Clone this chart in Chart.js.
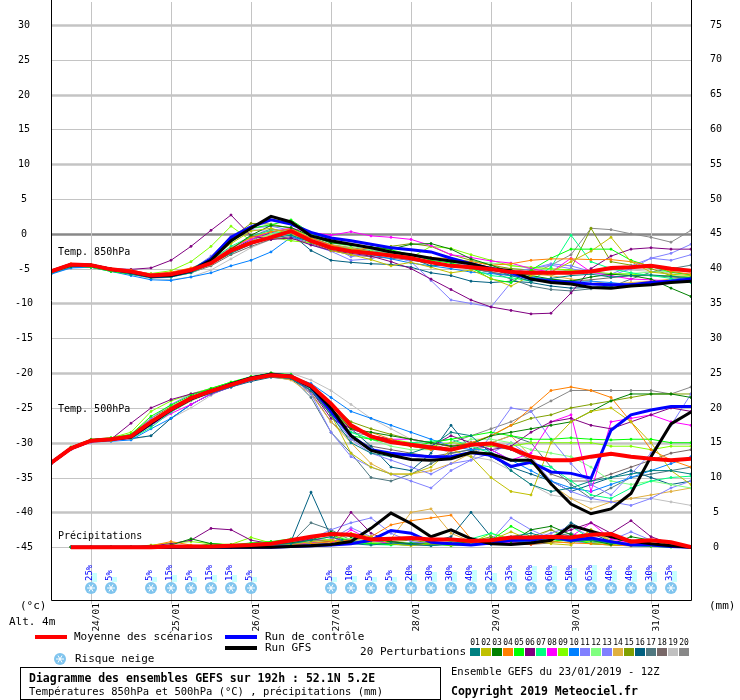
<!DOCTYPE html>
<html>
<head>
<meta charset="utf-8">
<script src="https://cdn.jsdelivr.net/npm/chart.js@4"></script>
<style>
  body { margin: 0; background: #fff; }
  canvas { display: block; }
</style>
</head>
<body>
<canvas id="chart" width="740" height="700"></canvas>
<script>
// 33 steps of 6h from 23/01 12Z
const steps = Array.from({ length: 33 }, (_, i) => i);
const dateLabels = ['24/01', '25/01', '26/01', '27/01', '28/01', '29/01', '30/01', '31/01'];
const dateSteps = [2, 6, 10, 14, 18, 22, 26, 30];
const tempTicks = [-45, -40, -35, -30, -25, -20, -15, -10, -5, 0, 5, 10, 15, 20, 25, 30];
const precTicks = [0, 5, 10, 15, 20, 25, 30, 35, 40, 45, 50, 55, 60, 65, 70, 75];

const mean850 = [-5.4,-4.4,-4.5,-5.1,-5.4,-6.0,-5.8,-5.2,-4.2,-2.4,-1.3,-0.5,0.4,-1.0,-2.0,-2.5,-2.8,-3.1,-3.5,-4.1,-4.6,-4.8,-5.1,-5.5,-5.6,-5.6,-5.6,-5.4,-4.9,-4.8,-4.6,-5.0,-5.3];
const ctrl850 = [-5.4,-4.4,-4.5,-5.1,-5.5,-6.1,-6.0,-5.3,-3.6,-0.5,1.0,2.0,1.4,0.2,-0.6,-1.0,-1.5,-2.0,-2.3,-2.6,-3.5,-4.3,-5.0,-5.6,-6.5,-6.8,-7.0,-7.2,-7.3,-7.3,-7.0,-6.8,-6.5];
const gfs850 = [-5.4,-4.4,-4.5,-5.1,-5.5,-6.1,-6.0,-5.3,-3.8,-1.0,0.8,2.5,1.7,-0.3,-1.0,-1.5,-2.0,-2.6,-3.0,-3.5,-3.9,-4.3,-5.0,-5.3,-6.5,-7.0,-7.2,-7.7,-7.8,-7.5,-7.3,-7.0,-6.8];

const mean500 = [-32.9,-30.8,-29.7,-29.5,-29.1,-27.0,-25.2,-23.6,-22.6,-21.7,-20.8,-20.3,-20.5,-21.8,-24.4,-27.5,-29.1,-29.9,-30.3,-30.7,-31.0,-30.3,-30.1,-30.8,-32.0,-32.5,-32.5,-32.0,-31.6,-32.0,-32.3,-32.5,-32.3];
const ctrl500 = [-32.9,-30.8,-29.7,-29.5,-29.2,-27.2,-25.3,-23.7,-22.6,-21.6,-20.7,-20.2,-20.4,-22.0,-25.5,-29.0,-31.0,-31.5,-31.8,-32.0,-32.0,-31.4,-31.8,-33.4,-32.8,-34.2,-34.4,-35.1,-28.2,-26.0,-25.3,-24.8,-24.8];
const gfs500 = [-32.9,-30.8,-29.7,-29.5,-29.2,-27.2,-25.3,-23.7,-22.6,-21.6,-20.7,-20.2,-20.5,-22.0,-25.0,-29.0,-31.1,-31.8,-32.4,-32.5,-32.3,-31.4,-31.6,-32.5,-32.5,-35.9,-38.8,-40.2,-39.5,-37.3,-32.0,-27.3,-25.6];

const meanPrec = [null,0,0,0,0,0,0.1,0.1,0.1,0.2,0.3,0.5,1.0,1.5,1.9,1.8,1.1,1.2,1.3,1.1,1.1,0.9,1.0,1.4,1.4,1.5,1.4,1.8,1.9,0.8,1.0,0.7,0];
const ctrlPrec = [null,0,0,0,0,0,0,0,0,0,0,0,0.1,0.2,0.3,0.5,1.0,2.4,2.0,0.7,0.5,0.3,0.6,1.0,1.0,1.5,1.0,1.3,0.8,0.3,0.3,0.1,0];
const gfsPrec = [null,0,0,0,0,0,0,0,0,0,0,0,0.1,0.2,0.4,0.8,2.7,4.9,3.4,1.5,2.5,1.2,0.5,0.4,0.6,1.0,3.1,2.3,1.5,0.9,0.5,0.2,0];

const pertColors = ['#008080','#c0c000','#008000','#ff8000','#00ff00','#800080','#00ff80','#ff00ff','#80ff00','#0080ff','#8080ff','#80ff80','#8080ff','#e0b040','#80a000','#006080','#507880','#786868','#c0c0c0','#888888'];

const pert850 = [
  [-5.6,-4.6,-4.6,-5.2,-5.8,-6.3,-6.2,-5.6,-4.3,-2.8,-1.5,-0.6,-0.2,-1.2,-2.2,-2.6,-3.0,-3.2,-3.5,-4.6,-4.4,-4.8,-5.0,-6.0,-6.8,-6.4,-6.0,-5.8,-6.2,-6.0,-5.9,-6.1,-6.3],
  [-5.3,-4.5,-4.5,-5.0,-5.3,-5.9,-5.7,-5.3,-3.6,-1.4,0.4,0.8,-0.1,-0.8,-2.4,-3.0,-3.7,-4.6,-4.1,-4.8,-5.6,-5.2,-6.4,-7.5,-6.0,-5.5,-4.0,-2.5,-0.5,-4.0,-5.5,-5.8,-6.0],
  [-5.5,-4.7,-4.6,-5.1,-5.5,-6.1,-6.0,-5.4,-4.2,-2.2,-0.2,1.2,0.9,-0.3,-1.3,-1.6,-1.9,-2.2,-1.5,-1.4,-2.2,-3.6,-4.5,-5.5,-6.0,-6.5,-6.8,-6.2,-5.8,-6.0,-6.5,-7.8,-9.0],
  [-5.2,-4.3,-4.4,-5.0,-5.2,-5.8,-5.5,-4.9,-3.9,-2.1,-0.5,0.3,0.7,-0.6,-1.6,-2.4,-2.0,-2.6,-3.2,-3.4,-3.6,-4.0,-4.5,-4.3,-3.8,-3.6,-3.6,-3.7,-3.7,-4.0,-4.6,-5.4,-5.8],
  [-5.6,-4.6,-4.8,-5.4,-5.8,-6.2,-5.9,-5.0,-3.5,-1.2,0.8,1.3,2.0,0.1,-1.2,-1.6,-1.9,-2.3,-3.0,-3.8,-4.2,-4.8,-6.5,-7.0,-5.2,-3.5,-2.2,-2.2,-2.2,-3.8,-4.7,-5.5,-5.9],
  [-5.5,-4.5,-4.4,-5.0,-5.1,-4.9,-3.8,-1.8,0.5,2.7,-0.3,-0.8,-0.6,-1.6,-2.4,-2.8,-3.2,-4.0,-5.0,-6.5,-8.0,-9.5,-10.5,-11.0,-11.5,-11.4,-8.5,-5.0,-3.2,-2.2,-2.0,-2.2,-2.2],
  [-5.4,-4.5,-4.6,-5.1,-5.3,-5.9,-5.8,-5.0,-3.8,-1.8,-0.4,0.5,-0.2,-1.0,-2.0,-2.5,-2.8,-3.1,-3.5,-4.0,-4.5,-5.0,-6.0,-6.3,-6.8,-4.8,-0.2,-4.0,-5.0,-5.6,-6.0,-6.4,-7.0],
  [-5.3,-4.4,-4.5,-5.0,-5.2,-5.8,-5.6,-5.0,-3.9,-2.0,-0.8,0.3,0.8,0.2,-0.2,0.3,-0.3,-0.5,-0.8,-1.7,-3.0,-3.4,-3.9,-4.2,-5.0,-5.5,-3.5,-5.5,-6.0,-6.5,-6.6,-6.8,-6.9],
  [-5.4,-4.5,-4.5,-5.0,-5.4,-5.7,-5.3,-4.0,-1.8,1.1,-1.0,-0.5,-1.0,-1.3,-1.8,-2.2,-2.6,-3.0,-3.4,-1.8,-2.1,-3.0,-3.8,-4.6,-4.8,-5.0,-5.2,-5.5,-5.7,-5.8,-6.0,-6.0,-6.2],
  [-5.8,-4.9,-4.8,-5.4,-6.0,-6.6,-6.7,-6.2,-5.6,-4.6,-3.8,-2.6,-0.5,-1.0,-2.0,-2.5,-3.0,-3.6,-4.2,-4.6,-5.0,-5.5,-5.7,-6.0,-6.2,-6.6,-6.8,-6.8,-7.0,-7.3,-7.0,-6.6,-6.2],
  [-5.5,-4.6,-4.6,-5.1,-5.5,-6.1,-6.0,-5.3,-3.5,-1.0,0.8,1.1,0.5,-0.6,-1.8,-3.3,-2.8,-3.1,-4.0,-6.7,-9.5,-10.0,-10.5,-7.0,-5.0,-4.3,-4.6,-5.4,-5.8,-4.6,-3.5,-3.8,-3.0],
  [-5.6,-4.7,-4.7,-5.2,-5.6,-6.3,-6.2,-5.6,-4.4,-2.8,-1.2,0.0,0.6,-0.4,-1.3,-1.8,-2.3,-2.8,-3.2,-3.5,-3.5,-4.0,-4.2,-4.5,-5.0,-5.1,-5.3,-5.6,-5.8,-5.7,-5.5,-5.4,-5.3],
  [-5.4,-4.5,-4.6,-5.1,-5.5,-6.0,-5.9,-5.2,-3.2,-0.3,0.6,0.3,-0.3,-1.6,-2.5,-3.8,-3.6,-2.8,-3.2,-3.6,-4.0,-4.6,-4.8,-5.5,-5.0,-4.5,-5.0,-5.6,-6.0,-5.0,-3.5,-2.8,-1.5],
  [-5.4,-4.6,-4.6,-5.0,-5.5,-6.0,-5.8,-5.2,-3.8,-2.0,-0.6,-0.2,0.5,-0.8,-1.6,-2.0,-2.6,-3.0,-3.6,-4.0,-4.5,-4.8,-5.0,-5.4,-5.8,-6.0,-6.5,-6.8,-7.2,-7.0,-6.8,-6.5,-6.3],
  [-5.5,-4.6,-4.6,-5.1,-5.5,-6.1,-6.0,-5.3,-3.4,-0.6,1.5,1.4,0.8,-0.5,-1.2,-1.6,-2.0,-1.8,-1.4,-1.8,-3.0,-3.8,-4.5,-5.0,-5.2,-6.0,-5.0,0.8,-4.0,-4.5,-5.0,-6.0,-6.5],
  [-5.7,-4.8,-4.8,-5.3,-5.7,-6.3,-6.2,-5.5,-4.2,-2.4,-0.8,0.2,0.0,-2.4,-3.8,-4.1,-4.3,-4.4,-4.8,-5.6,-6.0,-6.8,-7.0,-6.8,-7.0,-7.5,-7.8,-7.7,-7.5,-7.2,-7.0,-6.8,-6.5],
  [-5.5,-4.6,-4.6,-5.1,-5.5,-6.2,-6.0,-5.4,-4.0,-2.1,-0.4,0.7,0.3,-0.5,-1.6,-2.0,-2.4,-2.8,-3.4,-4.0,-4.5,-5.0,-5.5,-6.5,-7.5,-8.0,-8.2,-7.9,-7.6,-6.5,-5.5,-5.0,-4.5],
  [-5.4,-4.5,-4.6,-5.0,-5.4,-6.1,-6.1,-5.6,-4.6,-3.0,-1.8,-0.8,-0.4,-1.4,-2.4,-3.0,-3.3,-3.5,-3.8,-4.2,-4.6,-5.0,-5.5,-6.0,-6.3,-6.6,-6.8,-6.6,-6.3,-6.0,-6.0,-6.2,-6.4],
  [-5.6,-4.7,-4.7,-5.3,-5.8,-6.4,-6.6,-6.2,-5.2,-3.6,-2.0,-0.8,0.0,-0.6,-1.5,-2.0,-2.4,-2.6,-3.0,-3.5,-4.0,-4.4,-4.8,-5.0,-5.2,-5.4,-5.5,-5.4,-5.2,-5.2,-5.4,-5.6,-5.8],
  [-5.5,-4.6,-4.6,-5.1,-5.5,-6.1,-6.0,-5.4,-4.2,-2.4,-1.0,0.2,-0.9,-0.5,-1.6,-2.2,-2.6,-3.0,-3.6,-4.0,-4.5,-5.0,-5.5,-6.0,-5.8,-4.5,-3.0,0.8,0.6,0.0,-0.5,-1.2,0.5]
];

const pert500 = [
  [-33.0,-30.9,-29.8,-29.6,-29.3,-27.5,-25.4,-23.8,-22.9,-22.0,-21.0,-20.5,-20.8,-22.5,-26.0,-30.0,-31.5,-32.0,-31.5,-30.5,-28.5,-29.0,-31.5,-34.0,-36.0,-37.0,-36.5,-35.5,-35.0,-34.5,-34.0,-34.0,-34.5],
  [-33.0,-30.8,-29.8,-29.7,-29.2,-26.8,-25.0,-23.5,-22.5,-21.6,-20.6,-20.2,-20.6,-22.0,-26.0,-31.5,-33.5,-34.5,-34.5,-33.5,-31.0,-32.0,-35.0,-37.0,-37.5,-30.0,-27.0,-25.5,-25.0,-27.0,-30.0,-34.0,-36.0],
  [-32.8,-30.8,-29.6,-29.5,-29.0,-27.0,-25.0,-23.4,-22.4,-21.5,-20.6,-20.0,-20.3,-22.0,-25.0,-28.0,-28.5,-29.0,-29.5,-30.0,-30.5,-30.2,-29.0,-28.5,-28.0,-27.5,-27.0,-25.5,-24.0,-23.0,-23.0,-23.0,-23.5],
  [-33.0,-30.9,-29.8,-29.6,-29.3,-27.2,-25.2,-23.6,-22.6,-21.7,-20.8,-20.3,-20.5,-22.0,-25.0,-28.0,-28.5,-29.5,-30.5,-31.0,-30.5,-30.0,-29.0,-27.5,-25.0,-22.5,-22.0,-22.5,-23.5,-27.0,-31.0,-32.5,-33.5],
  [-32.7,-30.6,-29.5,-29.3,-28.8,-26.2,-24.6,-23.2,-22.2,-21.3,-20.5,-20.0,-20.2,-22.0,-25.0,-29.0,-29.5,-30.0,-30.5,-30.0,-29.5,-29.0,-28.5,-29.0,-29.5,-29.5,-29.3,-29.5,-29.6,-29.5,-29.5,-30.0,-30.0],
  [-33.0,-30.8,-29.7,-29.5,-27.2,-25.0,-23.8,-23.0,-22.4,-21.6,-20.8,-20.3,-20.5,-22.5,-26.5,-28.0,-29.0,-29.5,-30.5,-30.5,-29.0,-30.0,-31.0,-30.5,-28.5,-27.0,-26.5,-27.5,-28.0,-27.0,-26.0,-25.0,-25.5],
  [-33.0,-30.9,-29.8,-29.5,-29.4,-27.8,-25.6,-23.9,-22.8,-21.8,-20.9,-20.4,-20.6,-22.3,-26.0,-28.5,-29.5,-30.0,-30.0,-29.8,-29.5,-30.5,-31.5,-32.5,-33.0,-33.5,-35.5,-37.5,-38.0,-36.5,-35.5,-35.0,-34.8],
  [-33.1,-31.0,-29.9,-29.7,-29.4,-27.5,-25.8,-24.5,-23.0,-22.0,-21.0,-20.4,-20.6,-22.5,-26.0,-28.0,-29.0,-29.5,-29.5,-30.0,-30.5,-30.0,-31.0,-32.5,-31.5,-27.0,-26.0,-37.0,-27.0,-26.5,-26.0,-27.0,-27.5],
  [-32.8,-30.7,-29.6,-29.3,-28.5,-25.5,-24.0,-23.0,-22.2,-21.3,-20.6,-20.2,-20.3,-22.0,-25.5,-28.0,-29.0,-29.5,-30.0,-30.5,-30.0,-30.2,-30.5,-30.5,-30.0,-30.0,-30.0,-30.0,-30.5,-30.5,-31.0,-30.5,-30.5],
  [-33.1,-31.0,-29.9,-29.8,-29.6,-28.0,-26.5,-24.5,-23.0,-22.0,-21.0,-20.5,-20.5,-21.5,-23.5,-25.5,-26.5,-27.5,-28.5,-29.5,-30.5,-31.0,-31.0,-32.5,-34.0,-35.5,-36.5,-37.0,-36.0,-35.0,-34.0,-33.0,-32.0],
  [-33.0,-30.8,-29.8,-29.5,-29.0,-26.5,-24.5,-23.0,-22.2,-21.4,-20.6,-20.2,-20.5,-23.0,-28.5,-32.0,-33.5,-34.5,-35.5,-36.5,-34.0,-32.5,-29.0,-25.0,-25.5,-29.5,-33.0,-36.0,-37.5,-34.5,-31.5,-27.5,-23.0],
  [-33.0,-30.9,-29.8,-29.6,-29.2,-27.0,-25.2,-23.6,-22.5,-21.6,-20.7,-20.3,-20.7,-22.5,-25.5,-28.5,-29.5,-30.5,-31.0,-31.0,-30.8,-29.5,-29.5,-30.0,-31.0,-31.5,-32.0,-33.5,-35.5,-36.0,-35.5,-36.0,-36.5],
  [-33.0,-30.8,-29.8,-29.6,-29.1,-26.8,-25.0,-23.5,-22.3,-21.4,-20.6,-20.1,-20.6,-22.5,-26.0,-29.5,-31.5,-32.5,-33.5,-34.5,-33.0,-32.5,-31.5,-30.0,-32.0,-35.5,-37.0,-38.0,-38.5,-39.0,-38.0,-36.5,-35.5],
  [-33.1,-31.0,-29.9,-29.7,-29.5,-27.5,-25.6,-24.0,-22.8,-21.8,-21.0,-20.5,-21.0,-23.0,-27.0,-30.0,-33.0,-34.5,-34.5,-34.0,-33.0,-31.5,-30.0,-29.0,-32.0,-36.0,-38.0,-39.5,-38.5,-38.0,-37.5,-37.0,-36.5],
  [-32.9,-30.7,-29.7,-29.4,-28.8,-26.5,-24.8,-23.4,-22.4,-21.5,-20.6,-20.0,-20.4,-22.0,-24.5,-27.0,-28.0,-28.8,-29.5,-30.0,-30.5,-30.0,-29.0,-27.5,-26.5,-26.0,-25.0,-24.5,-24.0,-23.5,-23.0,-23.0,-23.0],
  [-33.0,-30.9,-29.8,-29.6,-29.4,-29.0,-26.5,-24.5,-23.0,-22.0,-21.2,-20.6,-20.9,-22.5,-25.5,-28.0,-30.5,-33.5,-34.0,-31.5,-27.5,-31.0,-32.0,-33.5,-34.5,-35.5,-37.0,-36.0,-35.0,-34.0,-35.0,-36.0,-35.5],
  [-33.0,-30.8,-29.8,-29.6,-29.2,-27.2,-25.3,-23.8,-22.6,-21.6,-20.7,-20.2,-20.6,-23.5,-28.5,-31.5,-35.0,-35.5,-34.5,-33.0,-31.5,-31.0,-30.0,-29.0,-30.0,-33.5,-36.0,-38.0,-36.5,-35.0,-34.5,-34.0,-33.5],
  [-33.0,-30.9,-29.8,-29.6,-29.3,-27.2,-25.3,-23.7,-22.6,-21.7,-20.8,-20.3,-20.7,-22.8,-27.0,-29.5,-30.5,-31.0,-31.5,-32.0,-31.5,-31.0,-30.5,-31.0,-32.5,-34.5,-35.5,-35.5,-34.5,-33.5,-32.5,-31.5,-31.0],
  [-32.9,-30.8,-29.8,-29.6,-29.5,-29.0,-26.5,-25.0,-23.2,-21.8,-20.8,-20.2,-20.0,-21.0,-22.5,-24.5,-26.5,-28.0,-29.5,-30.5,-31.5,-32.0,-32.5,-34.0,-36.0,-37.5,-38.0,-38.5,-38.5,-38.0,-38.0,-38.5,-39.0],
  [-33.0,-30.9,-29.8,-29.6,-29.3,-27.2,-25.3,-23.7,-22.5,-21.6,-20.7,-20.2,-20.6,-22.5,-26.0,-28.5,-29.0,-29.5,-30.5,-31.0,-30.0,-29.0,-28.0,-27.0,-25.5,-24.0,-22.5,-22.5,-22.5,-22.5,-22.5,-23.0,-22.0]
];

const pertPrec = [
  [null,0,0,0,0,0,0,0,0,0,0,0.3,0.5,1.0,1.5,0.5,0.3,0.6,0.4,0.2,0.5,1.0,0.8,1.5,2.0,1.2,0.8,1.0,0.6,0.3,0.4,0.3,0],
  [null,0,0,0,0,0,0,0,0,0,0,0.2,0.4,0.8,1.0,2.0,1.5,0.5,0.2,0.5,0.3,0.4,1.0,2.2,1.0,0.5,0.3,2.5,0.8,0.3,0.2,0.1,0],
  [null,0,0,0,0,0,0.3,1.2,0.5,0.3,0.2,0.4,0.6,1.0,2.2,1.5,1.0,0.8,0.5,0.3,0.5,0.8,1.2,0.8,2.5,3.0,1.8,1.0,0.4,1.5,1.0,0.3,0],
  [null,0,0,0,0,0.2,0.8,0.3,0.2,0,0,0.2,0.3,0.5,0.8,1.0,1.5,3.2,3.8,4.2,4.6,1.2,0.6,0.5,0.4,0.8,0.6,0.5,0.3,0.2,0.5,0.2,0],
  [null,0,0,0,0,0,0,0,0.5,0.3,0.6,0.8,1.2,1.5,1.8,0.8,0.5,0.4,0.3,0.6,0.2,0.4,1.0,3.0,1.5,0.8,1.2,0.5,0.3,0.2,0.1,0,0],
  [null,0,0,0,0,0.2,0.5,1.0,2.7,2.5,1.0,0.5,0.6,1.2,0.8,5.0,2.0,0.8,0.4,0.6,0.3,0.5,1.0,0.8,0.5,1.5,2.5,3.5,2.0,3.8,1.5,0.5,0],
  [null,0,0,0,0,0,0,0,0,0.2,0.4,0.3,1.0,0.5,0.4,0.8,0.4,0.3,0.6,0.4,0.8,1.2,2.0,1.0,0.6,1.5,3.0,1.2,0.6,0.4,0.3,0.2,0],
  [null,0,0,0,0,0,0,0,0,0,0,0.2,0.3,0.6,0.5,2.5,1.0,0.5,0.4,0.3,0.6,0.4,0.8,0.6,0.4,1.0,1.5,3.5,1.2,0.6,0.4,0.3,0],
  [null,0,0,0,0,0.3,0.6,0.8,0.5,0.4,1.4,0.6,0.8,1.5,1.0,0.6,0.4,0.8,0.5,0.4,0.3,0.6,2.0,1.2,0.6,0.8,1.0,0.8,0.5,0.4,0.6,0.3,0],
  [null,0,0,0,0,0,0,0,0,0,0,0,0.2,0.4,0.3,0.6,1.0,0.8,0.5,0.4,0.3,0.5,0.4,0.6,1.5,1.0,1.8,0.8,0.6,0.4,0.3,0.2,0],
  [null,0,0,0,0,0,0,0,0,0.2,0.3,0.5,0.8,1.2,2.5,3.5,4.2,2.0,0.8,0.5,0.4,0.6,1.0,4.2,2.5,1.2,0.8,0.6,1.0,2.2,1.0,0.4,0],
  [null,0,0,0,0,0,0,0,0.2,0.4,0.6,0.8,0.6,1.0,1.5,1.2,0.8,0.5,0.4,0.3,0.4,0.6,0.5,0.8,1.0,1.5,1.0,0.8,0.5,0.3,0.2,0.1,0],
  [null,0,0,0,0,0,0,0,0,0,0.2,0.4,0.5,0.8,1.2,2.8,1.5,0.6,0.4,0.3,0.5,0.4,0.6,0.8,1.2,2.0,3.0,1.5,0.8,0.5,0.3,0.2,0],
  [null,0,0,0,0,0,0,0,0,0,0,0.2,0.4,0.5,0.8,1.0,0.6,1.2,5.0,5.5,2.0,0.8,0.5,0.6,1.2,0.8,0.6,2.5,1.0,0.5,0.3,0.2,0],
  [null,0,0,0,0,0,0,0,0,0.2,0.4,0.6,0.8,1.0,0.8,0.6,0.5,0.8,1.0,0.6,0.4,0.8,1.5,1.0,1.5,2.5,1.0,0.5,0.4,0.3,0.5,0.2,0],
  [null,0,0,0,0,0,0,0,0,0,0.3,0.6,0.8,7.9,1.5,0.8,0.5,0.4,0.6,0.8,1.5,5.0,1.5,0.8,0.5,1.0,3.5,2.0,0.8,0.6,0.4,0.2,0],
  [null,0,0,0,0,0,0,0,0,0,0.2,0.4,0.6,3.5,2.5,1.0,0.5,0.4,0.3,0.4,0.6,0.8,0.6,0.4,0.8,1.5,2.0,1.0,0.6,0.4,0.3,0.2,0],
  [null,0,0,0,0,0,0,0,0,0,0.2,0.3,0.5,0.6,0.8,1.2,0.8,0.6,0.4,0.3,0.5,0.6,0.8,0.5,0.4,0.6,1.5,1.0,0.6,0.4,0.3,0.2,0],
  [null,0,0,0,0,0,0,0,0,0,0,0.2,0.3,0.5,0.4,0.6,0.8,0.5,0.4,0.3,0.4,0.5,0.6,0.8,1.0,2.5,1.5,1.0,0.6,0.4,0.3,0.2,0],
  [null,0,0,0,0,0,0,0,0,0,0,0.2,0.4,0.6,0.8,1.0,0.6,0.5,0.4,0.3,0.4,0.6,0.8,1.0,1.2,1.5,1.0,0.8,0.5,0.4,0.3,0.2,0]
];

// snow risk (%) per 6h step
const snowSteps = [2,3,5,6,7,8,9,10,14,15,16,17,18,19,20,21,22,23,24,25,26,27,28,29,30,31];
const snowPct = [25,5,5,15,5,15,15,5,5,10,5,5,20,30,30,40,25,35,60,60,50,65,40,40,30,35];

const pts = arr => arr.map((v, i) => ({ x: steps[i], y: v }));
const mono = 'DejaVu Sans Mono, monospace';

function line(data, color, width, axis, dots) {
  return {
    data: pts(data), borderColor: color, backgroundColor: color,
    borderWidth: width, pointRadius: dots ? 1 : 0, pointHoverRadius: 0,
    yAxisID: axis, tension: 0, spanGaps: false
  };
}

// chart.js draws dataset 0 last (on top), so main runs go first
const datasets = [
  line(mean850, '#ff0000', 4, 'y'),
  line(mean500, '#ff0000', 4, 'y'),
  line(meanPrec, '#ff0000', 4, 'y2'),
  line(gfs850, '#000000', 3, 'y'),
  line(gfs500, '#000000', 3, 'y'),
  line(gfsPrec, '#000000', 3, 'y2'),
  line(ctrl850, '#0000ff', 3, 'y'),
  line(ctrl500, '#0000ff', 3, 'y'),
  line(ctrlPrec, '#0000ff', 3, 'y2')
];
pertColors.forEach((c, k) => {
  datasets.push(line(pert850[k], c, 1, 'y', true));
  datasets.push(line(pert500[k], c, 1, 'y', true));
  datasets.push(line(pertPrec[k], c, 1, 'y2', true));
});

const PX = 524 / 75; // pixels per degree, same for mm on the right

function snowflake(ctx, x, y) {
  ctx.save();
  ctx.fillStyle = '#7fc4ee';
  ctx.beginPath(); ctx.arc(x, y, 6, 0, Math.PI * 2); ctx.fill();
  ctx.strokeStyle = '#ffffff'; ctx.lineWidth = 1;
  for (let a = 0; a < 3; a++) {
    const t = a * Math.PI / 3;
    ctx.beginPath();
    ctx.moveTo(x - 4 * Math.cos(t), y - 4 * Math.sin(t));
    ctx.lineTo(x + 4 * Math.cos(t), y + 4 * Math.sin(t));
    ctx.stroke();
  }
  ctx.restore();
}

const decor = {
  id: 'decor',
  beforeDatasetsDraw(chart) {
    const { ctx, chartArea: a, scales } = chart;
    ctx.save();
    // horizontal grid + tick labels
    ctx.font = '10px ' + mono;
    ctx.textBaseline = 'middle';
    tempTicks.forEach((v, k) => {
      const y = Math.round(scales.y.getPixelForValue(v)) + 0.5;
      ctx.strokeStyle = v === 0 ? '#888888' : '#c4c4c4';
      ctx.lineWidth = (v % 10 === 0) ? 2.5 : 1;
      ctx.beginPath(); ctx.moveTo(a.left, y); ctx.lineTo(a.right, y); ctx.stroke();
      ctx.fillStyle = '#000';
      ctx.textAlign = 'center';
      ctx.fillText(String(v), 24, y);
      ctx.fillText(String(precTicks[k]), 716, scales.y2.getPixelForValue(precTicks[k]));
    });
    // vertical grid at 00Z, with a short tick below the frame
    ctx.strokeStyle = '#c4c4c4'; ctx.lineWidth = 1;
    dateSteps.forEach(s => {
      const x = Math.round(scales.x.getPixelForValue(s)) + 0.5;
      ctx.beginPath(); ctx.moveTo(x, a.top); ctx.lineTo(x, a.bottom + 4); ctx.stroke();
    });
    ctx.fillStyle = '#000';
    ctx.textAlign = 'left';
    ctx.fillText('Temp. 850hPa', 58, 252);
    ctx.fillText('Temp. 500hPa', 58, 409);
    ctx.fillText('Précipitations', 58, 536);
    ctx.restore();
  },
  afterDraw(chart) {
    const { ctx, chartArea: a, scales } = chart;
    ctx.save();
    // frame
    ctx.strokeStyle = '#000'; ctx.lineWidth = 1;
    ctx.beginPath();
    ctx.moveTo(a.left + 0.5, 0); ctx.lineTo(a.left + 0.5, a.bottom + 0.5);
    ctx.lineTo(a.right + 0.5, a.bottom + 0.5); ctx.lineTo(a.right + 0.5, 0);
    ctx.stroke();

    // date labels, rotated
    ctx.fillStyle = '#000';
    ctx.font = '9.5px ' + mono;
    ctx.textBaseline = 'middle';
    dateSteps.forEach((s, k) => {
      const x = scales.x.getPixelForValue(s) + 6;
      ctx.save(); ctx.translate(x, 603); ctx.rotate(-Math.PI / 2);
      ctx.textAlign = 'right'; ctx.fillText(dateLabels[k], 0, 0);
      ctx.restore();
    });

    // snow risk
    snowSteps.forEach((s, k) => {
      const x = scales.x.getPixelForValue(s);
      const h = 4 + snowPct[k] / 5;
      ctx.fillStyle = '#c8ffff';
      ctx.fillRect(x + 1, 582 - h, 5, h);
      snowflake(ctx, x, 588);
      ctx.save(); ctx.translate(x - 1, 581); ctx.rotate(-Math.PI / 2);
      ctx.fillStyle = '#0000ff'; ctx.font = '9px ' + mono;
      ctx.textAlign = 'left'; ctx.fillText(snowPct[k] + '%', 0, 0);
      ctx.restore();
    });

    ctx.fillStyle = '#000';
    ctx.font = '11px ' + mono;
    ctx.textAlign = 'left';
    ctx.fillText('(°c)', 20, 606);
    ctx.fillText('Alt. 4m', 9, 622);
    ctx.fillText('(mm)', 709, 606);

    // legend
    ctx.lineWidth = 4;
    [['#ff0000', 35, 637], ['#0000ff', 225, 637], ['#000000', 225, 648]].forEach(([c, x, y]) => {
      ctx.strokeStyle = c; ctx.beginPath(); ctx.moveTo(x, y); ctx.lineTo(x + 32, y); ctx.stroke();
    });
    ctx.fillText('Moyenne des scénarios', 74, 637);
    ctx.fillText('Run de contrôle', 265, 637);
    ctx.fillText('Run GFS', 265, 648);
    snowflake(ctx, 60, 659);
    ctx.fillText('Risque neige', 75, 659);
    ctx.textAlign = 'right';
    ctx.fillText('20 Perturbations', 466, 652);
    ctx.textAlign = 'center';
    ctx.font = '8px ' + mono;
    pertColors.forEach((c, k) => {
      const x = 470 + k * 11;
      ctx.fillStyle = c; ctx.fillRect(x, 648, 10, 8);
      ctx.fillStyle = '#000';
      ctx.fillText(String(k + 1).padStart(2, '0'), x + 5, 643);
    });

    // title box
    ctx.strokeStyle = '#000'; ctx.lineWidth = 1;
    ctx.strokeRect(20.5, 667.5, 420, 32);
    ctx.textAlign = 'left';
    ctx.font = 'bold 11.5px ' + mono;
    ctx.fillText('Diagramme des ensembles GEFS sur 192h : 52.1N 5.2E', 29, 679);
    ctx.font = '10.5px ' + mono;
    ctx.fillText('Températures 850hPa et 500hPa (°C) , précipitations (mm)', 29, 692);
    ctx.fillText('Ensemble GEFS du 23/01/2019 - 12Z', 451, 672);
    ctx.font = 'bold 11.5px ' + mono;
    ctx.fillText('Copyright 2019 Meteociel.fr', 451, 692);
    ctx.restore();
  }
};

new Chart(document.getElementById('chart'), {
  type: 'line',
  data: { datasets },
  options: {
    responsive: false,
    animation: false,
    events: [],
    layout: { padding: { top: 0, bottom: 100, left: 0, right: 0 } },
    plugins: { legend: { display: false }, tooltip: { enabled: false } },
    scales: {
      x: { type: 'linear', min: 0, max: 32, display: false },
      y: {
        position: 'left',
        min: -45 - 53 / PX, max: 30 + 23 / PX,
        afterFit: s => { s.width = 51; },
        grid: { display: false },
        border: { display: false },
        ticks: { display: false }
      },
      y2: {
        position: 'right',
        min: -53 / PX, max: 75 + 23 / PX,
        afterFit: s => { s.width = 49; },
        grid: { display: false },
        border: { display: false },
        ticks: { display: false }
      }
    }
  },
  plugins: [decor]
});
</script>
</body>
</html>
